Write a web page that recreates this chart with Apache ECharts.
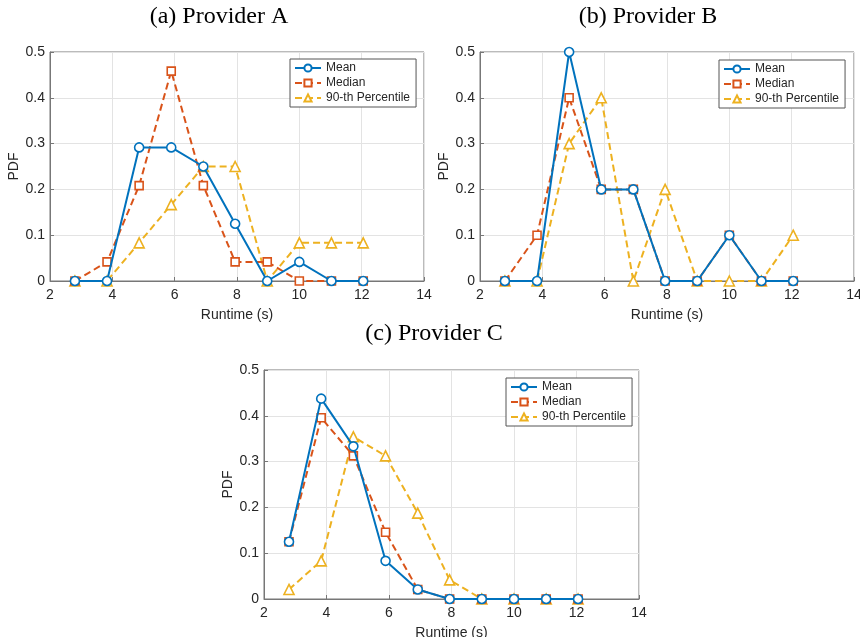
<!DOCTYPE html>
<html>
<head>
<meta charset="utf-8">
<script src="https://cdn.jsdelivr.net/npm/echarts@6/dist/echarts.min.js"></script>
<style>html,body{margin:0;padding:0;background:#fff;}#c{width:860px;height:637px;}</style>
</head>
<body>
<div id="c"></div>
<script>
const runtimes = [2.8, 3.83, 4.86, 5.89, 6.92, 7.94, 8.97, 10.0, 11.03, 12.05];
const seriesNames = ['Mean', 'Median', '90-th Percentile'];
const panelTitles = ['(a) Provider A', '(b) Provider B', '(c) Provider C'];
const xTicks = [2, 4, 6, 8, 10, 12, 14];
const yTicks = [0, 0.1, 0.2, 0.3, 0.4, 0.5];

const aMean   = [0, 0, 0.2917, 0.2917, 0.25, 0.125, 0, 0.0417, 0, 0];
const aMedian = [0, 0.0417, 0.2083, 0.4583, 0.2083, 0.0417, 0.0417, 0, 0, 0];
const aP90    = [0, 0, 0.0833, 0.1667, 0.25, 0.25, 0, 0.0833, 0.0833, 0.0833];

const bMean   = [0, 0, 0.5, 0.2, 0.2, 0, 0, 0.1, 0, 0];
const bMedian = [0, 0.1, 0.4, 0.2, 0.2, 0, 0, 0.1, 0, 0];
const bP90    = [0, 0, 0.3, 0.4, 0, 0.2, 0, 0, 0, 0.1];

const cMean   = [0.125, 0.4375, 0.3333, 0.0833, 0.0208, 0, 0, 0, 0, 0];
const cMedian = [0.125, 0.3958, 0.3125, 0.1458, 0.0208, 0, 0, 0, 0, 0];
const cP90    = [0.0208, 0.0833, 0.3542, 0.3125, 0.1875, 0.0417, 0, 0, 0, 0];

const panels = [[aMean, aMedian, aP90], [bMean, bMedian, bP90], [cMean, cMedian, cP90]];

const colors = ['#0072BD', '#D95319', '#EDB120'];
const symbols = ['circle', 'rect', 'triangle'];
const lineTypes = ['solid', [7, 4], [7, 4]];
const sizes = [9, 8, 10];

const grids = [
  {left: 50, top: 52, width: 374, height: 229},
  {left: 480, top: 52, width: 374, height: 229},
  {left: 264, top: 370, width: 375, height: 229}
];
const titlePos = [{x: 219, y: 5}, {x: 648, y: 5}, {x: 434, y: 322}];
const legendPos = [{left: 290, top: 59}, {left: 719, top: 60}, {left: 506, top: 378}];

const txt = '#262626';
const font = 'Liberation Sans';

const option = {
  animation: false,
  backgroundColor: '#fff',
  title: panelTitles.map((t, i) => ({
    text: t, left: titlePos[i].x, top: titlePos[i].y, textAlign: 'center', padding: 0,
    textStyle: {fontFamily: 'Liberation Serif', fontSize: 24, fontWeight: 'normal', color: '#000'}
  })),
  grid: grids.map(g => Object.assign({show: true, borderColor: '#777', borderWidth: 1,
    backgroundColor: 'transparent', containLabel: false, outerBoundsMode: 'none'}, g)),
  legend: legendPos.map(p => ({
    data: seriesNames, orient: 'vertical', left: p.left, top: p.top,
    itemWidth: 26, itemHeight: 9, itemGap: 3, padding: [3, 6, 3, 4],
    borderColor: '#555', borderWidth: 1, backgroundColor: '#fff', borderRadius: 0,
    textStyle: {fontFamily: font, fontSize: 12, color: txt, padding: [0, 0, 0, 0]}
  })),
  xAxis: grids.map((g, i) => ({
    gridIndex: i, type: 'value', min: 2, max: 14, interval: 2,
    name: 'Runtime (s)', nameLocation: 'middle', nameGap: 27,
    nameTextStyle: {fontFamily: font, fontSize: 14, color: txt},
    axisLine: {show: true, lineStyle: {color: '#777'}},
    axisTick: {show: true, inside: true, length: 4, lineStyle: {color: '#777'}},
    axisLabel: {fontFamily: font, fontSize: 14, color: txt, margin: 7},
    splitLine: {show: true, lineStyle: {color: '#e3e3e3'}}
  })),
  yAxis: grids.map((g, i) => ({
    gridIndex: i, type: 'value', min: 0, max: 0.5, interval: 0.1,
    name: 'PDF', nameLocation: 'middle', nameGap: 29, nameRotate: 90,
    nameTextStyle: {fontFamily: font, fontSize: 14, color: txt},
    axisLine: {show: true, lineStyle: {color: '#777'}},
    axisTick: {show: true, inside: true, length: 4, lineStyle: {color: '#777'}},
    axisLabel: {fontFamily: font, fontSize: 14, color: txt, margin: 5,
      formatter: v => (v === 0 ? '0' : v.toFixed(1))},
    splitLine: {show: true, lineStyle: {color: '#e3e3e3'}}
  })),
  series: []
};

panels.forEach((arrs, p) => {
  arrs.forEach((vals, s) => {
    option.series.push({
      type: 'line', name: seriesNames[s], xAxisIndex: p, yAxisIndex: p,
      data: runtimes.map((x, k) => [x, vals[k]]),
      symbol: symbols[s], symbolSize: sizes[s], showAllSymbol: true,
      lineStyle: {color: colors[s], width: 2, type: lineTypes[s]},
      itemStyle: {color: '#fff', borderColor: colors[s], borderWidth: 1.6},
      z: 3 - s
    });
  });
});

echarts.init(document.getElementById('c')).setOption(option);
</script>
</body>
</html>
